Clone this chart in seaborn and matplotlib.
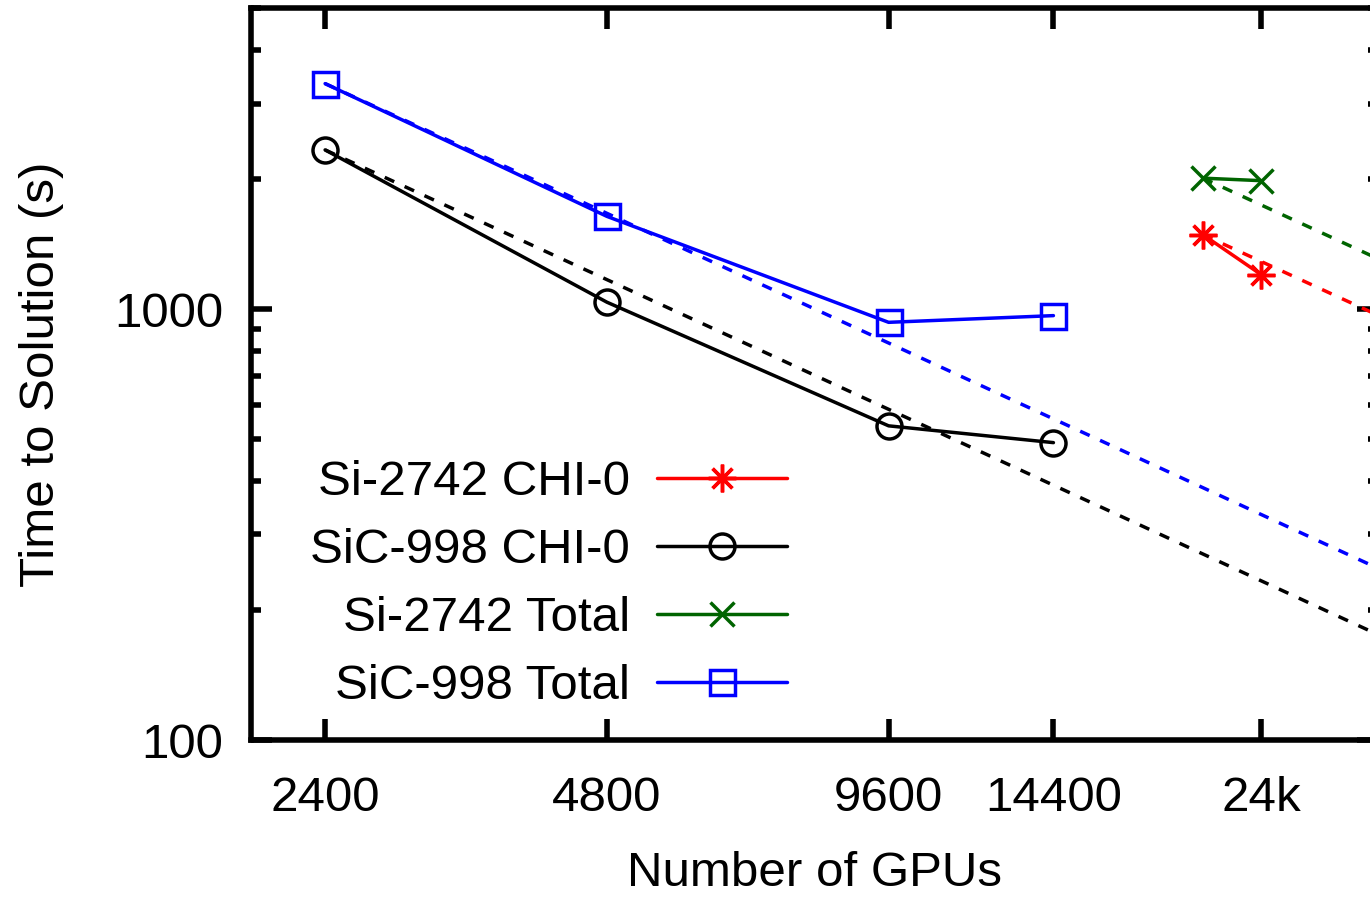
import numpy as np
import pandas as pd
import matplotlib
matplotlib.use("Agg")
import matplotlib.pyplot as plt
import seaborn as sns
from matplotlib.ticker import FixedLocator, NullLocator, LogLocator, NullFormatter

# ---- data ----
sic_gpus = [2400, 4800, 9600, 14400]
sic_total = [3338, 1642, 932, 966]
sic_chi0 = [2342, 1038, 536, 490]
si_gpus = [20800, 24000]
si_total = [2014, 1987]
si_chi0 = [1489, 1203]

legend_labels = ["Si-2742 CHI-0", "SiC-998 CHI-0", "Si-2742 Total", "SiC-998 Total"]

x_ticks = [2400, 4800, 9600, 14400, 24000]
x_tick_labels = ["2400", "4800", "9600", "14400", "24k"]
y_ticks = [100, 1000]
y_tick_labels = ["100", "1000"]
x_lim = (2000, 32000)
y_lim = (100, 5000)

# ---- style ----
sns.set_theme(style="white")
plt.rcParams['font.family'] = ['Liberation Sans', 'DejaVu Sans']

FS = 35.5
LW = 2.5

fig = plt.figure(figsize=(13.7, 8.98), dpi=100)
ax = fig.add_axes([251 / 1370, 1 - 740 / 898, (1378 - 251) / 1370, (740 - 8) / 898])
ax.set_xscale('log')
ax.set_yscale('log')

series = [
    (legend_labels[0], si_gpus, si_chi0, '#ff0000', (8, 2, 0), 20),
    (legend_labels[1], sic_gpus, sic_chi0, '#000000', 'o', 18),
    (legend_labels[2], si_gpus, si_total, '#006400', 'x', 17),
    (legend_labels[3], sic_gpus, sic_total, '#0000ff', 's', 18),
]

# ideal-scaling dashed reference lines (from first point to right edge)
for label, xs, ys, color, marker, ms in series:
    xi = [xs[0], x_lim[1]]
    yi = [ys[0], ys[0] * xs[0] / x_lim[1]]
    sns.lineplot(x=xi, y=yi, ax=ax, color=color, lw=LW, estimator=None, sort=False,
                 linestyle=(0, (3.0, 3.3)), legend=False, zorder=2)

for label, xs, ys, color, marker, ms in series:
    sns.lineplot(x=xs, y=ys, ax=ax, color=color, lw=LW, estimator=None, sort=False,
                 marker=marker, markersize=ms, markerfacecolor='none',
                 markeredgecolor=color, markeredgewidth=LW, label=label, zorder=3)

ax.set_xlim(*x_lim)
ax.set_ylim(*y_lim)

ax.xaxis.set_major_locator(FixedLocator(x_ticks))
ax.xaxis.set_minor_locator(NullLocator())
ax.set_xticklabels(x_tick_labels)
ax.yaxis.set_major_locator(FixedLocator(y_ticks))
ax.set_yticklabels(y_tick_labels)
ax.yaxis.set_minor_locator(LogLocator(base=10, subs=np.arange(2, 10)))
ax.yaxis.set_minor_formatter(NullFormatter())

ax.tick_params(which='both', direction='in', top=True, right=True, bottom=True, left=True,
               color='black', width=4, labelsize=FS, labelcolor='black')
ax.tick_params(axis='x', which='both', pad=26)
ax.tick_params(axis='y', which='both', pad=20)
ax.tick_params(which='major', length=15)
ax.tick_params(which='minor', length=7.5)
for s in ax.spines.values():
    s.set_color('black')
    s.set_linewidth(4)

ax.set_xlabel("Number of GPUs", fontsize=FS, color='black')
ax.set_ylabel("Time to Solution (s)", fontsize=FS, color='black')
ax.xaxis.set_label_coords(0.5, (740 - 851) / 732)
ax.yaxis.set_label_coords((64 - 251) / 1127, 0.5)

lines = [l for l in ax.get_lines() if not l.get_label().startswith('_')]
hmap = {l.get_label(): l for l in lines}
leg = ax.legend([hmap[l] for l in legend_labels], legend_labels,
                loc='upper right', bbox_to_anchor=((787 - 251) / 1127, (740 - 460) / 732),
                markerfirst=False, frameon=False, fontsize=FS, handlelength=2.64,
                handletextpad=0.55, labelspacing=0.465, borderpad=0, borderaxespad=0)
for t in leg.get_texts():
    t.set_color('black')

fig.savefig("out.png", dpi=100)
